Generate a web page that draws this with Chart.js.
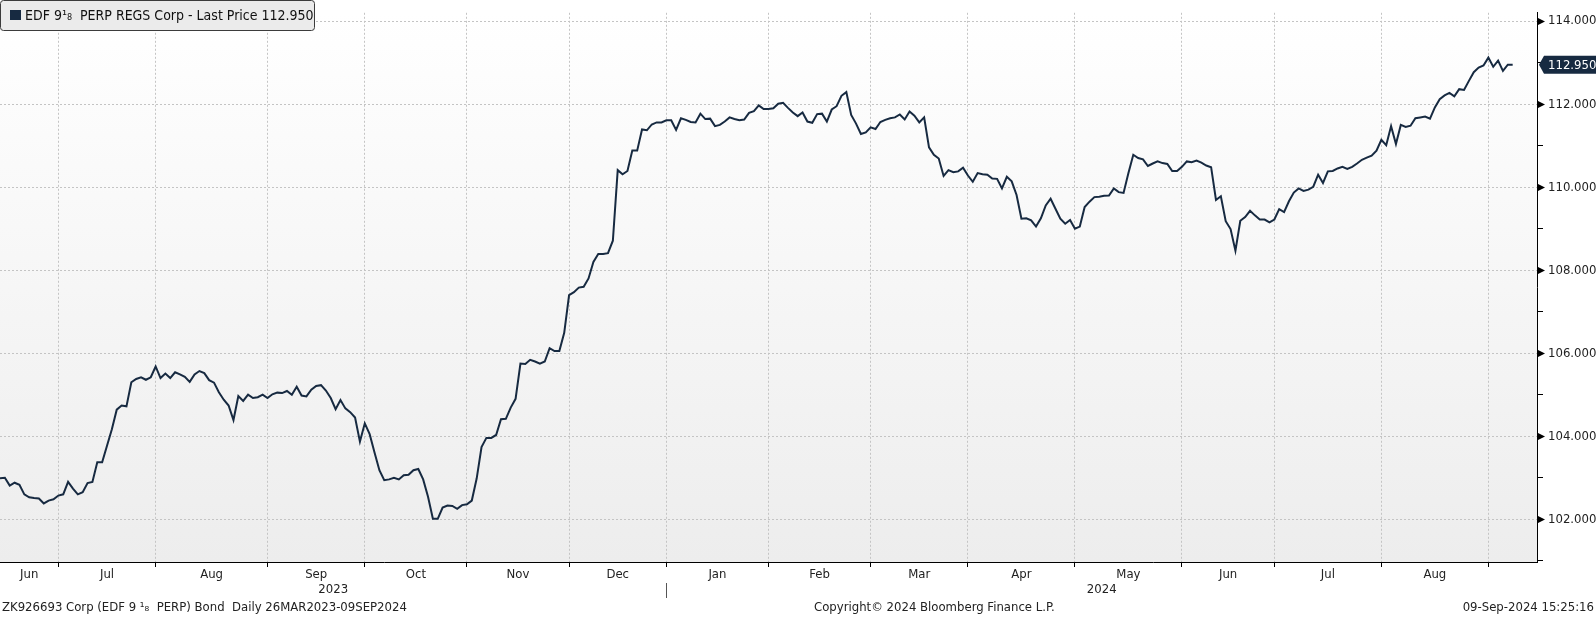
<!DOCTYPE html>
<html>
<head>
<meta charset="utf-8">
<script src="https://cdn.jsdelivr.net/npm/chart.js@4.4.1/dist/chart.umd.min.js"></script>
<style>
  html, body { margin: 0; padding: 0; background: #fff; }
  canvas { display: block; }
</style>
</head>
<body>
<canvas id="priceChart" width="1596" height="617"></canvas>
<script>
// daily last price, one value per trading day
const prices = [
  102.99, 103.00, 102.81, 102.88, 102.83, 102.60, 102.53, 102.51, 102.50, 102.38, 102.45, 102.48,
  102.57, 102.60, 102.90, 102.74, 102.60, 102.65, 102.87, 102.90, 103.37, 103.37, 103.77, 104.17, 104.64, 104.74, 104.72, 105.30, 105.38, 105.42, 105.36, 105.42,
  105.68, 105.40, 105.51, 105.40, 105.54, 105.49, 105.43, 105.31, 105.49, 105.57, 105.52, 105.35, 105.29, 105.06, 104.88, 104.74, 104.39, 104.97, 104.85, 105.00, 104.92, 104.94, 105.00,
  104.92, 105.01, 105.05, 105.04, 105.09, 105.00, 105.19, 104.98, 104.96, 105.12, 105.21, 105.23, 105.10, 104.92, 104.65, 104.87, 104.67, 104.58, 104.45, 103.87,
  104.31, 104.05, 103.61, 103.18, 102.94, 102.96, 103.00, 102.96, 103.06, 103.07, 103.18, 103.21, 102.96, 102.54, 102.01, 102.01, 102.28, 102.33, 102.32, 102.25, 102.34,
  102.36, 102.45, 102.98, 103.74, 103.96, 103.96, 104.03, 104.41, 104.42, 104.69, 104.90, 105.75, 105.74, 105.84, 105.80, 105.75, 105.80, 106.12, 106.05, 106.05, 106.49,
  107.40, 107.47, 107.58, 107.60, 107.80, 108.20, 108.39, 108.39, 108.41, 108.71, 110.41, 110.31, 110.39, 110.88, 110.88, 111.39, 111.37, 111.51, 111.56, 111.56,
  111.61, 111.61, 111.38, 111.66, 111.62, 111.57, 111.56, 111.77, 111.64, 111.65, 111.47, 111.50, 111.58, 111.68, 111.64, 111.61, 111.63, 111.79, 111.83, 111.97, 111.88,
  111.88, 111.90, 112.01, 112.03, 111.91, 111.80, 111.71, 111.80, 111.58, 111.55, 111.76, 111.77, 111.58, 111.87, 111.95, 112.20, 112.29, 111.74, 111.53, 111.28,
  111.32, 111.44, 111.40, 111.57, 111.62, 111.66, 111.68, 111.75, 111.63, 111.82, 111.72, 111.56, 111.68, 110.96, 110.78, 110.69, 110.27, 110.41, 110.36, 110.38,
  110.47, 110.28, 110.13, 110.34, 110.31, 110.30, 110.21, 110.20, 109.97, 110.25, 110.14, 109.81, 109.24, 109.25, 109.20, 109.05, 109.25, 109.56, 109.72, 109.48, 109.24, 109.12, 109.21,
  109.00, 109.05, 109.52, 109.65, 109.76, 109.77, 109.79, 109.80, 109.97, 109.88, 109.86, 110.34, 110.78, 110.70, 110.67, 110.51, 110.57, 110.62, 110.58, 110.56, 110.39, 110.39,
  110.49, 110.62, 110.60, 110.64, 110.59, 110.52, 110.48, 109.69, 109.78, 109.18, 108.99, 108.47, 109.19, 109.28, 109.43, 109.32, 109.22, 109.22, 109.15,
  109.22, 109.47, 109.40, 109.66, 109.87, 109.97, 109.91, 109.94, 110.01, 110.30, 110.10, 110.38, 110.39, 110.45, 110.49, 110.44, 110.49, 110.57, 110.66, 110.71, 110.76, 110.88,
  111.14, 111.01, 111.47, 111.04, 111.50, 111.45, 111.48, 111.66, 111.68, 111.70, 111.65, 111.92, 112.12, 112.21, 112.27, 112.19, 112.36, 112.34, 112.56, 112.77, 112.88, 112.93,
  113.12, 112.90, 113.05, 112.80, 112.95, 112.95
];

const monthNames = ['Jun', 'Jul', 'Aug', 'Sep', 'Oct', 'Nov', 'Dec', 'Jan', 'Feb', 'Mar', 'Apr', 'May', 'Jun', 'Jul', 'Aug'];
// trading-day index where each following month begins (Jul 2023 ... Sep 2024)
const monthStarts = [12, 32, 55, 75, 96, 117, 137, 158, 179, 199, 221, 243, 262, 284, 306];
const years = ['2023', '2024'];
const yearBreak = 137; // first day of Jan 2024
const yTicks = [101, 102, 103, 104, 105, 106, 107, 108, 109, 110, 111, 112, 113, 114];
const lastPrice = 112.950;
const seriesName = 'EDF 9\u00B9\u2088  PERP REGS Corp - Last Price';
const footerLeft = 'ZK926693 Corp (EDF 9 \u00B9\u2088  PERP) Bond  Daily 26MAR2023-09SEP2024';
const footerMid = 'Copyright\u00A9 2024 Bloomberg Finance L.P.';
const footerRight = '09-Sep-2024 15:25:16';

const FAMILY = '"DejaVu Sans Condensed", "DejaVu Sans", sans-serif';
const NAVY = '#172a41';
const GRID = '#c4c4c4';

const monthMids = monthNames.map((m, i) => ((i === 0 ? 0 : monthStarts[i - 1]) + monthStarts[i]) / 2);
const nB = monthStarts.length;

const backdrop = {
    id: 'backdrop',
    beforeDraw(chart) {
        const { ctx, chartArea: a } = chart;
        ctx.save();
        ctx.fillStyle = '#ffffff';
        ctx.fillRect(0, 0, chart.width, chart.height);
        const g = ctx.createLinearGradient(0, a.top, 0, a.bottom);
        g.addColorStop(0, '#ffffff');
        g.addColorStop(1, '#ededed');
        ctx.fillStyle = g;
        ctx.fillRect(a.left, a.top, a.right - a.left, a.bottom - a.top);
        ctx.restore();
    }
};

const overlay = {
    id: 'overlay',
    afterDraw(chart) {
        const { ctx, chartArea: a, scales: { x, y } } = chart;
        ctx.save();

        // arrow markers on the labelled price ticks
        ctx.fillStyle = '#000';
        yTicks.filter(v => v % 2 === 0).forEach(v => {
            const py = Math.round(y.getPixelForValue(v)) + 0.5;
            ctx.beginPath();
            ctx.moveTo(a.right + 1, py - 3.5);
            ctx.lineTo(a.right + 8, py);
            ctx.lineTo(a.right + 1, py + 3.5);
            ctx.closePath();
            ctx.fill();
        });

        // last price tag
        const py = y.getPixelForValue(lastPrice);
        ctx.fillStyle = NAVY;
        ctx.beginPath();
        ctx.moveTo(a.right + 2, py);
        ctx.lineTo(a.right + 7, py - 9);
        ctx.lineTo(chart.width, py - 9);
        ctx.lineTo(chart.width, py + 9);
        ctx.lineTo(a.right + 7, py + 9);
        ctx.closePath();
        ctx.fill();
        ctx.fillStyle = '#ffffff';
        ctx.font = '13px ' + FAMILY;
        ctx.textBaseline = 'middle';
        ctx.textAlign = 'left';
        ctx.fillText(lastPrice.toFixed(3), a.right + 11, py + 1);

        // legend box
        ctx.fillStyle = '#ebebeb';
        ctx.strokeStyle = '#3c3c3c';
        ctx.lineWidth = 1;
        ctx.beginPath();
        ctx.roundRect(0.5, 0.5, 314, 30, 3);
        ctx.fill();
        ctx.stroke();
        ctx.fillStyle = NAVY;
        ctx.fillRect(10, 10, 11, 10);
        ctx.fillStyle = '#111';
        ctx.font = '14px ' + FAMILY;
        ctx.fillText(seriesName + ' ' + lastPrice.toFixed(3), 25, 16);

        // year row
        const sx = Math.round(x.getPixelForValue(yearBreak)) + 0.5;
        ctx.strokeStyle = '#555';
        ctx.beginPath();
        ctx.moveTo(sx, 583);
        ctx.lineTo(sx, 598);
        ctx.stroke();
        ctx.fillStyle = '#222';
        ctx.font = '13px ' + FAMILY;
        ctx.textAlign = 'center';
        ctx.fillText(years[0], (a.left + sx) / 2, 590);
        ctx.fillText(years[1], (sx + a.right) / 2, 590);

        // footer
        ctx.textAlign = 'left';
        ctx.fillText(footerLeft, 2, 608);
        ctx.fillText(footerMid, 814, 608);
        ctx.textAlign = 'right';
        ctx.fillText(footerRight, 1594, 608);
        ctx.restore();
    }
};

new Chart(document.getElementById('priceChart').getContext('2d'), {
    type: 'line',
    data: {
        datasets: [{
            label: seriesName,
            data: prices.map((v, i) => ({ x: i, y: v })),
            borderColor: NAVY,
            borderWidth: 2,
            pointRadius: 0,
            tension: 0,
            fill: false,
        }],
    },
    options: {
        responsive: false,
        animation: false,
        layout: { padding: 0 },
        plugins: {
            legend: { display: false },
            tooltip: { enabled: false },
        },
        scales: {
            x: {
                type: 'linear',
                position: 'bottom',
                min: 0,
                max: 316,
                afterBuildTicks: s => {
                    s.ticks = monthStarts.concat(monthMids).map(v => ({ value: v }));
                },
                afterFit: s => { s.height = 55; },
                ticks: {
                    autoSkip: false,
                    maxRotation: 0,
                    padding: 0,
                    color: '#222',
                    font: { family: FAMILY, size: 13 },
                    callback: (v, i) => (i < nB ? '' : monthNames[i - nB]),
                },
                grid: {
                    color: c => (c.index < nB ? GRID : 'transparent'),
                    tickColor: c => (c.index < nB ? '#000' : 'transparent'),
                    tickLength: 5,
                    lineWidth: 1,
                },
                border: { display: true, color: '#000', width: 1, dash: [2, 2] },
            },
            y: {
                type: 'linear',
                position: 'right',
                min: 100.97,
                max: 114.2,
                afterBuildTicks: s => {
                    s.ticks = yTicks.map(v => ({ value: v }));
                },
                afterFit: s => { s.width = 59; },
                ticks: {
                    padding: 5,
                    color: '#222',
                    font: { family: FAMILY, size: 13 },
                    callback: v => (v % 2 === 0 ? v.toFixed(3) : ''),
                },
                grid: {
                    color: c => (c.tick && c.tick.value % 2 === 0 ? GRID : 'transparent'),
                    tickColor: c => (c.tick && c.tick.value % 2 === 0 ? 'transparent' : '#000'),
                    tickLength: 6,
                    lineWidth: 1,
                },
                border: { display: true, color: '#000', width: 1, dash: [2, 2] },
            },
        },
    },
    plugins: [backdrop, overlay],
});
</script>
</body>
</html>
